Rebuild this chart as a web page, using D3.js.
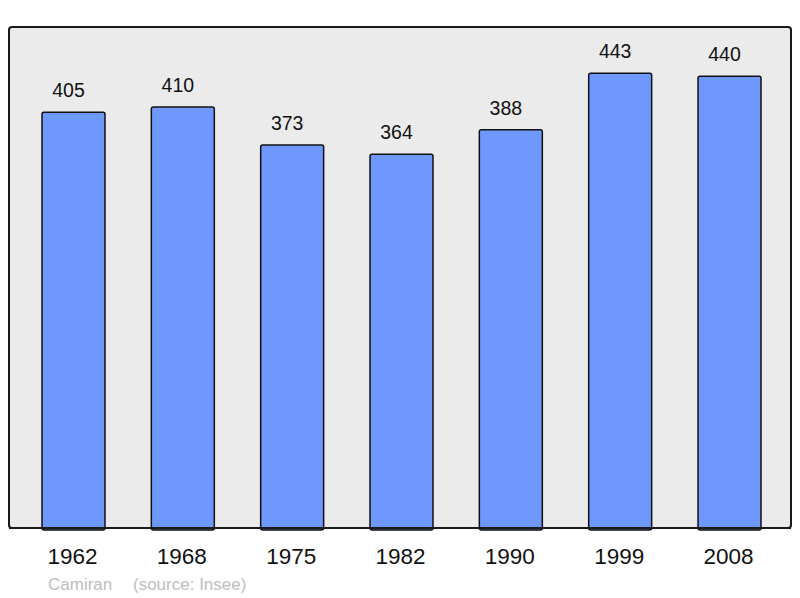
<!DOCTYPE html>
<html>
<head>
<meta charset="utf-8">
<script src="https://cdn.jsdelivr.net/npm/d3@7"></script>
<style>
html,body{margin:0;padding:0;background:#fff;}
text{font-family:"Liberation Sans",Arial,sans-serif;}
</style>
</head>
<body>
<script>
const years = ["1962","1968","1975","1982","1990","1999","2008"];
const population = [405,410,373,364,388,443,440];
const footerName = "Camiran";
const footerSource = "(source: Insee)";

const W = 800, H = 598;
const svg = d3.select("body").append("svg").attr("width", W).attr("height", H);

const frame = {x0: 9, x1: 791, y0: 27, y1: 528};

svg.append("rect")
  .attr("x", frame.x0).attr("y", frame.y0)
  .attr("width", frame.x1 - frame.x0).attr("height", frame.y1 - frame.y0)
  .attr("rx", 3).attr("ry", 3)
  .attr("fill", "#ebebeb").attr("stroke", "#1a1a1a").attr("stroke-width", 2);

const x = d3.scaleBand().domain(years).range([42, 761]).paddingInner(0.424).paddingOuter(0);
const y = d3.scaleLinear().domain([0, 488]).range([frame.y1, frame.y0]);

const data = years.map((yr, i) => ({year: yr, value: population[i]}));

svg.append("g").selectAll("rect").data(data).enter().append("rect")
  .attr("x", d => x(d.year))
  .attr("y", d => y(d.value))
  .attr("width", x.bandwidth())
  .attr("height", d => y(0) - y(d.value) + 2)
  .attr("rx", 2).attr("ry", 2)
  .attr("fill", "#6f98ff").attr("stroke", "#111").attr("stroke-width", 1.5);

svg.append("line")
  .attr("x1", frame.x0).attr("x2", frame.x1)
  .attr("y1", frame.y1).attr("y2", frame.y1)
  .attr("stroke", "#1a1a1a").attr("stroke-width", 2);

svg.append("g").selectAll("text").data(data).enter().append("text")
  .attr("x", d => x(d.year) + x.bandwidth() / 2 - 5)
  .attr("y", d => y(d.value) - 15)
  .attr("text-anchor", "middle")
  .attr("font-size", 19.5)
  .attr("fill", "#111")
  .text(d => d.value);

const xAxis = d3.axisBottom(x).tickSize(0).tickPadding(0);
const gx = svg.append("g").attr("transform", `translate(-1, ${frame.y1})`).call(xAxis);
gx.select(".domain").remove();
gx.selectAll("text")
  .attr("y", 36).attr("dy", 0)
  .attr("font-size", 22.5)
  .attr("font-family", "Liberation Sans, Arial, sans-serif")
  .attr("fill", "#111");

svg.append("text").attr("x", 48).attr("y", 590)
  .attr("font-size", 17).attr("fill", "#bdbdbd").text(footerName);
svg.append("text").attr("x", 133).attr("y", 590)
  .attr("font-size", 17).attr("fill", "#bdbdbd").text(footerSource);
</script>
</body>
</html>
